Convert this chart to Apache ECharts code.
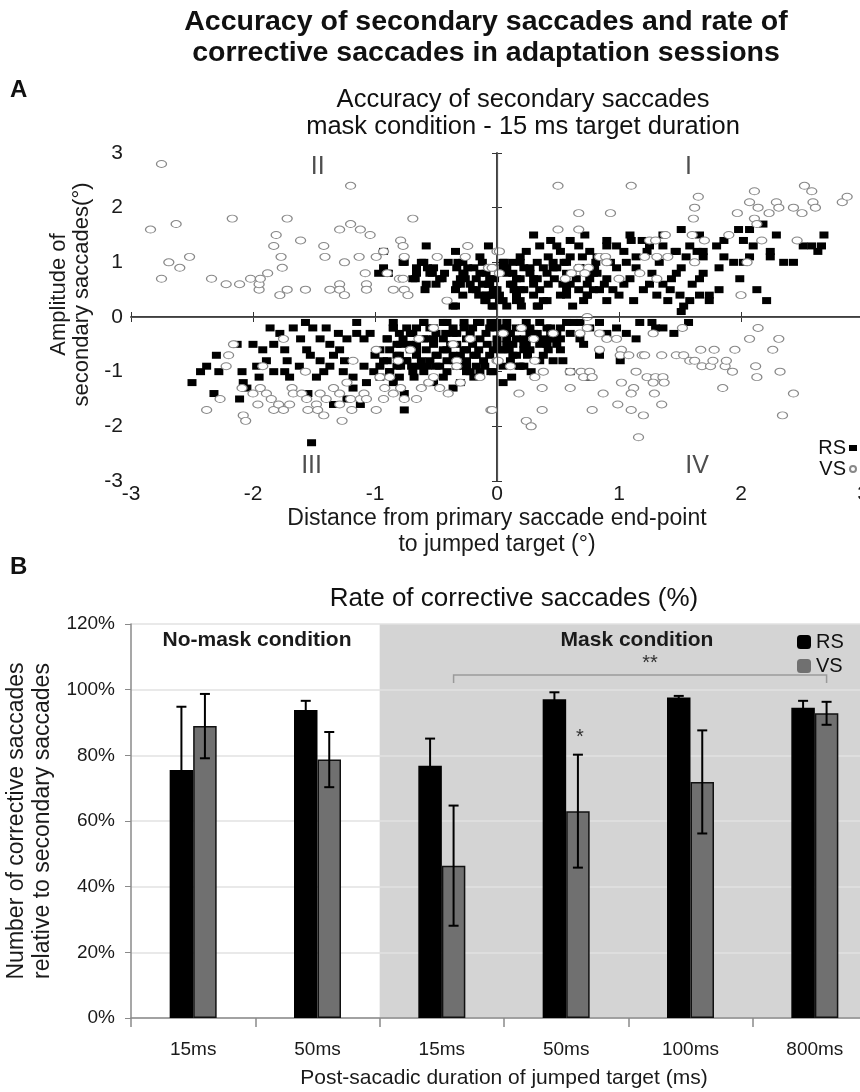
<!DOCTYPE html>
<html>
<head>
<meta charset="utf-8">
<script src="https://cdn.jsdelivr.net/npm/echarts@6/dist/echarts.min.js"></script>
<style>
html,body{margin:0;padding:0;background:#fff;}
#chart{width:860px;height:1092px;}
</style>
</head>
<body>
<div id="chart"></div>
<script>
// ---------- Panel A data: [distance (deg), amplitude (deg)] ----------
const rsPoints = [
[-0.93,1.2],[-0.97,0.8],[-0.93,0.9],[-0.89,0.8],[-0.76,1.0],[-0.67,0.7],[-0.66,0.8],[-0.62,1.0],[-0.58,1.3],[-0.57,0.9],
[-0.53,0.8],[-0.52,0.9],[-0.5,0.6],[-0.59,0.5],[-0.43,0.8],[-0.34,1.2],[-0.34,0.5],[-0.34,0.2],[-0.32,1.0],[-0.27,0.8],
[-0.26,0.7],[-0.24,0.9],[-0.2,0.5],[-0.14,1.1],[-0.19,0.9],[-0.14,0.8],[-0.07,1.3],[-0.09,0.8],[-0.07,0.6],[-0.08,0.4],
[-0.04,0.4],[-0.04,0.2],[-0.02,0.7],[-0.02,0.5],[-0.12,0.6],[-0.17,0.7],[-0.1,0.3],[-0.22,0.6],[-0.3,0.6],[-0.45,0.7],
[-0.4,1.0],[-0.12,1.0],[-0.05,0.9],[-0.28,0.4],[-0.15,0.4],
[0.3,1.5],[0.44,1.4],[0.35,1.3],[0.49,1.3],[0.6,1.4],[0.72,1.5],[0.67,1.3],[0.76,1.2],[0.9,1.4],[0.98,1.3],
[1.09,1.5],[1.1,1.4],[1.19,1.4],[1.36,1.5],[1.51,1.6],[1.66,1.5],[1.58,1.3],[1.47,1.2],[1.69,1.2],[1.8,1.3],
[1.86,1.4],[1.98,1.6],[2.07,1.6],[2.18,1.7],[2.02,1.4],[2.1,1.3],[2.24,1.2],[2.24,1.1],[2.29,1.5],[2.35,1.0],
[2.43,1.0],[2.51,1.3],[2.58,1.3],[2.68,1.5],[2.66,1.3],[2.63,1.2],[0.24,1.2],[0.19,1.1],[0.13,1.0],[0.05,0.9],
[0.06,1.0],[0.22,0.9],[0.33,1.0],[0.42,1.1],[0.52,1.2],[0.6,1.1],[0.49,0.9],[0.41,0.8],[0.3,0.7],[0.16,0.7],
[0.11,0.6],[0.0,0.5],[0.02,0.3],[0.22,0.5],[0.34,0.2],[0.41,0.3],[0.3,0.4],[0.54,0.6],[0.57,0.4],[0.67,0.5],
[0.76,0.7],[0.82,0.8],[0.74,0.4],[0.84,0.5],[0.9,0.3],[0.98,0.9],[1.06,1.0],[1.14,0.9],[1.04,0.6],[1.09,0.7],
[1.2,0.5],[1.25,0.6],[1.31,0.4],[1.36,0.6],[1.43,0.7],[1.42,0.5],[1.47,0.8],[1.51,0.9],[1.5,0.4],[1.53,0.2],
[1.58,0.3],[1.51,0.1],[1.66,0.4],[1.66,0.7],[1.69,0.8],[1.74,0.4],[1.74,0.3],[1.82,0.5],[1.82,0.9],[1.86,1.1],
[1.94,1.0],[1.99,0.7],[2.02,1.0],[2.07,1.1],[2.13,0.5],[2.21,0.3],[1.23,1.2],[1.14,1.1],[1.04,1.2],[0.9,1.3],
[0.82,1.1],[0.93,1.0],[0.68,0.9],[0.65,0.7],[0.6,0.6],[0.42,0.6],[0.35,0.5],[0.16,0.3],[-0.03,0.4],[1.69,1.1],
[1.64,1.2],[1.36,1.3],[1.46,1.2],[1.25,1.3],[0.08,0.8],[0.14,0.5],[0.27,0.8],[0.47,0.7],[0.55,1.0],[0.7,1.1],
[0.8,0.9],[0.88,0.6],[1.0,0.4],[1.12,0.3],[1.27,0.8],[1.33,1.0],[1.4,0.3],[1.6,0.6],[1.55,1.1],[0.62,0.2],
[0.95,0.5],[0.2,0.2],[0.46,1.0],[0.38,0.9],
[-2.5,-1.2],[-2.43,-1.0],[-2.38,-0.9],[-2.3,-0.7],[-2.28,-1.0],[-2.32,-1.4],[-2.11,-1.5],[-2.13,-0.5],[-2.09,-1.0],[-2.08,-1.2],
[-2.05,-1.3],[-2.0,-0.5],[-1.97,-0.9],[-1.92,-0.6],[-1.89,-0.8],[-1.86,-0.2],[-1.83,-0.5],[-1.78,-0.3],[-1.74,-0.6],[-1.72,-0.8],
[-1.74,-1.0],[-1.83,-1.0],[-1.67,-0.2],[-1.61,-0.4],[-1.57,-0.1],[-1.56,-0.6],[-1.53,-0.7],[-1.51,-0.2],[-1.45,-0.4],[-1.4,-0.2],
[-1.37,-0.5],[-1.34,-0.7],[-1.29,-0.6],[-1.23,-0.4],[-1.15,-0.1],[-1.15,-0.3],[-1.09,-0.4],[-1.04,-0.3],[-1.48,-1.1],[-1.42,-1.0],
[-1.37,-0.9],[-1.26,-1.0],[-1.18,-1.1],[-1.09,-0.9],[-1.07,-1.2],[-1.18,-1.3],[-1.34,-1.6],[-1.23,-1.5],[-1.12,-1.6],[-0.76,-1.4],
[-0.76,-1.7],[-1.55,-1.4],[-1.52,-2.3],[-0.9,-0.4],[-0.96,-0.6],[-0.93,-0.8],[-0.85,-0.2],[-0.82,-0.7],[-0.79,-0.5],[-0.71,-0.3],
[-0.66,-0.6],[-0.6,-0.1],[-0.57,-0.9],[-0.52,-0.4],[-0.49,-0.7],[-0.41,-0.1],[-0.38,-0.5],[-0.35,-0.8],[-0.27,-0.2],[-0.25,-0.6],
[-0.22,-1.0],[-0.16,-0.1],[-0.14,-0.4],[-0.11,-0.8],[-0.05,-1.0],[-0.03,-0.6],[-0.01,-0.2],[-0.68,-1.1],[-0.6,-1.0],[-0.52,-1.2],
[-0.44,-1.1],[-0.36,-1.3],[-0.3,-1.2],[-0.19,-1.1],[-0.14,-1.0],[-0.88,-1.0],[-0.79,-0.9],[-0.74,-0.8],[-0.47,-0.9],[-0.33,-0.9],
[-0.19,-0.7],[-0.08,-0.5],[-0.52,-0.2],[-0.66,-0.2],[-0.36,-0.3],[-0.22,-0.3],[-0.85,-1.2],[-0.96,-1.1],[-1.01,-1.0],
[0.0,-0.1],[0.05,-0.2],[0.11,-0.3],[0.16,-0.2],[0.22,-0.4],[0.27,-0.2],[0.33,-0.3],[0.38,-0.4],[0.44,-0.2],[0.49,-0.3],
[0.52,-0.4],[0.63,-0.1],[0.6,-0.3],[0.68,-0.4],[0.76,-0.2],[0.84,-0.1],[0.9,-0.3],[0.98,-0.2],[1.06,-0.3],[1.14,-0.4],
[1.17,-0.1],[1.27,-0.1],[1.3,-0.2],[1.36,-0.2],[1.45,-0.3],[1.57,-0.1],[0.0,-0.5],[0.05,-0.6],[0.11,-0.8],[0.16,-0.7],
[0.22,-0.5],[0.27,-0.6],[0.35,-0.5],[0.38,-0.7],[0.49,-0.5],[0.52,-0.6],[0.54,-0.8],[0.35,-0.8],[0.22,-0.9],[0.05,-0.9],
[-0.03,-1.0],[0.05,-1.2],[0.71,-0.5],[0.84,-0.7],[1.01,-0.8],[0.6,-1.0],[0.76,-1.1],[0.08,-0.4],[0.13,-0.5],[0.25,-0.7],
[0.3,-0.3],[0.42,-0.6],[0.46,-0.8],[0.03,-0.6],[0.18,-0.9],[0.28,-1.0],[0.44,-0.4],
[-1.62,-0.9],[-1.45,-0.8],[-1.25,-0.8],[-1.0,-0.7],[-0.72,-0.5],[-0.62,-0.8],[-0.44,-0.6],[-0.3,-0.7],[-0.15,-0.6],[-0.42,-0.3],
[-0.58,-0.4],[-0.25,-0.9],[-0.1,-0.9],[-1.3,-0.3],[-1.7,-1.1],[-1.95,-1.1],[-0.96,-0.9],[-0.8,-1.1],[-0.7,-0.9],[0.12,-1.1],
// centre cluster (detail read)
[-0.85,-0.1],[-0.6,-0.1],[-0.44,-0.1],[-0.27,-0.1],[-0.14,-0.1],[-0.05,-0.1],[0.08,-0.1],[0.24,-0.1],[0.35,-0.1],[0.57,-0.1],[0.68,-0.1],
[-0.85,-0.2],[-0.74,-0.2],[-0.55,-0.2],[-0.36,-0.2],[-0.2,-0.2],[-0.06,-0.2],[0.08,-0.2],[0.21,-0.2],[0.41,-0.2],[0.52,-0.2],
[-0.8,-0.3],[-0.69,-0.3],[-0.5,-0.3],[-0.33,-0.3],[-0.09,-0.3],[0.1,-0.3],[0.27,-0.3],[0.44,-0.3],
[-0.9,-0.4],[-0.77,-0.4],[-0.6,-0.4],[-0.44,-0.4],[-0.25,-0.4],[0.0,-0.4],[0.16,-0.4],[0.33,-0.4],[0.46,-0.4],
[-0.82,-0.5],[-0.66,-0.5],[-0.52,-0.5],[-0.33,-0.5],[-0.2,-0.5],[0.08,-0.5],[0.24,-0.5],[0.41,-0.5],
[-0.88,-0.6],[-0.71,-0.6],[-0.58,-0.6],[-0.41,-0.6],[-0.27,-0.6],[0.1,-0.6],[0.22,-0.6],
[-0.8,-0.7],[-0.66,-0.7],[-0.5,-0.7],[-0.36,-0.7],[-0.17,-0.7],[-0.06,-0.7],[0.13,-0.7],
[-0.9,-0.8],[-0.74,-0.8],[-0.55,-0.8],[-0.41,-0.8],[-0.25,-0.8],
[-0.82,-0.9],[-0.63,-0.9],[-0.5,-0.9],[-0.3,-0.9],[-0.17,-0.9],[0.19,-0.9],
[-0.88,-1.0],[-0.69,-1.0],[-0.41,-1.0],[-0.25,-1.0],
[-0.77,1.0],[-0.6,1.0],[-0.28,1.0],[0.05,1.0],[0.19,1.0],[0.57,1.0],[0.81,1.0],
[-0.66,0.9],[-0.33,0.9],[0.08,0.9],[0.27,0.9],[0.46,0.9],[0.68,0.9],
[-0.9,0.8],[-0.55,0.8],[-0.28,0.8],[0.13,0.8],[0.57,0.8],[0.79,0.8],
[-0.69,0.7],[-0.47,0.7],[-0.3,0.7],[-0.06,0.7],[0.19,0.7],[0.33,0.7],[0.9,0.7],
[-0.58,0.6],[-0.33,0.6],[-0.06,0.6],[0.13,0.6],[0.3,0.6],[0.74,0.6],
[-0.17,0.5],[-0.03,0.5],[0.19,0.5],[0.57,0.5],[0.79,0.5],
[-0.09,0.4],[0.02,0.4],[0.16,0.4],[0.52,0.4],[0.74,0.4],
[-0.09,0.3],[0.05,0.3],[0.19,0.3],[0.38,0.3],[0.71,0.3],
[-0.36,0.2],[-0.03,0.2],[0.08,0.2],[0.33,0.2]
];
const vsPoints = [
[-2.75,2.8],[-2.84,1.6],[-2.63,1.7],[-2.75,0.7],[-2.69,1.0],[-2.6,0.9],[-2.52,1.1],[-2.34,0.7],[-2.22,0.6],[-2.17,1.8],
[-2.11,0.6],[-2.02,0.7],[-1.95,0.5],[-1.95,0.6],[-1.94,0.7],[-1.88,0.8],[-1.83,1.3],[-1.81,1.5],[-1.77,1.1],[-1.76,0.9],
[-1.78,0.4],[-1.72,0.5],[-1.72,1.8],[-1.61,1.4],[-1.57,0.5],[-1.42,1.3],[-1.41,1.1],[-1.37,0.5],[-1.29,0.6],[-1.29,0.5],
[-1.25,0.4],[-1.29,1.6],[-1.2,1.7],[-1.2,2.4],[-1.25,1.0],[-1.12,1.6],[-1.04,1.5],[-1.13,1.1],[-1.08,0.8],[-1.07,0.6],
[-1.07,0.5],[-0.99,1.1],[-0.93,1.2],[-0.9,0.8],[-0.85,0.5],[-0.79,1.4],[-0.77,1.3],[-0.76,1.1],[-0.69,1.8],[-0.8,0.7],
[-0.77,0.7],[-0.76,0.5],[-0.73,0.4],[-0.49,1.1],[-0.41,0.3],[-0.26,1.1],[-0.24,1.3],[-0.07,0.9],[0.0,1.2],
[0.5,2.4],[1.1,2.4],[1.65,2.2],[1.62,2.0],[1.61,1.8],[0.67,1.9],[0.93,1.9],[0.5,1.6],[0.67,1.6],[2.11,2.3],
[2.52,2.4],[2.58,2.3],[2.07,2.1],[2.14,2.0],[2.29,2.1],[2.31,2.0],[2.23,1.9],[2.43,2.0],[2.5,1.9],[2.59,2.1],
[2.61,2.0],[2.83,2.1],[2.87,2.2],[1.97,1.9],[2.11,1.8],[2.13,1.7],[2.17,1.4],[2.46,1.4],[1.9,1.5],[1.7,1.4],
[1.6,1.5],[1.38,1.5],[1.25,1.4],[1.3,1.4],[0.02,1.2],[0.84,1.1],[0.89,1.1],[0.9,1.0],[1.21,1.1],[1.31,1.1],
[1.4,1.1],[1.62,1.0],[2.05,1.0],[0.61,0.8],[0.67,0.9],[0.75,0.9],[0.56,0.7],[0.72,0.8],[0.02,0.8],[-0.04,0.9],
[1.0,0.7],[1.17,0.8],[1.31,0.7],[2.0,0.4],[0.74,0.0],
[-2.16,-0.5],[-2.2,-0.7],[-2.22,-0.9],[-2.27,-1.5],[-2.38,-1.7],[-2.09,-1.3],[-2.0,-1.4],[-2.08,-1.8],[-2.06,-1.9],[-1.96,-1.6],
[-1.94,-1.3],[-1.92,-0.9],[-1.89,-1.4],[-1.85,-1.5],[-1.83,-1.7],[-1.79,-1.6],[-1.75,-1.7],[-1.75,-0.4],[-1.7,-1.6],[-1.68,-1.3],
[-1.67,-1.4],[-1.6,-1.4],[-1.57,-1.0],[-1.56,-1.5],[-1.55,-1.7],[-1.48,-1.6],[-1.47,-1.7],[-1.45,-1.4],[-1.42,-1.8],[-1.4,-1.5],
[-1.34,-1.3],[-1.29,-1.4],[-1.29,-1.6],[-1.27,-1.9],[-1.23,-1.2],[-1.2,-1.5],[-1.19,-1.7],[-1.18,-0.8],[-1.12,-1.5],[-1.09,-1.4],
[-1.07,-1.5],[-0.99,-1.7],[-0.99,-0.6],[-0.96,-1.1],[-0.93,-1.5],[-0.92,-1.3],[-0.88,-1.1],[-0.85,-1.4],[-0.81,-0.8],[-0.79,-1.3],
[-0.76,-1.5],[-0.66,-1.5],[-0.64,-0.4],[-0.62,-1.3],[-0.56,-1.2],[-0.52,-1.1],[-0.47,-1.3],[-0.4,-1.4],[-0.3,-1.2],[-0.33,-0.8],
[-0.33,-0.9],[-0.52,-0.2],[-0.71,-0.6],[-0.36,-0.5],[-0.22,-0.4],[-0.14,-1.1],[-0.05,-1.7],[0.0,-0.8],
[0.05,-0.3],[0.2,-0.2],[0.3,-0.4],[0.46,-0.3],[0.68,-0.3],[0.74,-0.2],[0.84,-0.3],[0.9,-0.4],[0.98,-0.4],[0.84,-0.6],
[1.02,-0.6],[1.01,-0.7],[1.08,-0.7],[1.19,-0.7],[1.21,-0.7],[1.28,-0.3],[1.35,-0.7],[1.47,-0.7],[1.52,-0.2],[1.53,-0.7],
[1.58,-0.8],[1.62,-0.8],[1.67,-0.6],[1.68,-0.9],[1.75,-0.9],[1.77,-0.8],[1.78,-0.6],[1.87,-0.9],[1.88,-0.8],[1.93,-1.0],
[1.95,-0.6],[2.07,-0.4],[2.14,-0.2],[2.26,-0.6],[2.31,-0.4],[2.32,-1.0],[2.12,-0.9],[2.13,-1.1],[1.85,-1.3],[2.43,-1.4],
[2.34,-1.8],[0.01,-0.8],[0.11,-0.9],[0.31,-0.8],[0.38,-1.0],[0.31,-1.1],[0.37,-1.3],[0.18,-1.4],[0.6,-1.0],[0.6,-1.3],
[0.69,-1.0],[0.76,-1.0],[0.71,-1.1],[0.78,-1.1],[1.02,-1.2],[1.14,-1.0],[1.12,-1.3],[1.1,-1.4],[1.23,-1.1],[1.3,-1.1],
[1.36,-1.1],[1.28,-1.2],[1.37,-1.2],[1.29,-1.4],[0.87,-1.4],[0.37,-1.7],[0.78,-1.7],[0.99,-1.6],[1.1,-1.7],[1.2,-1.8],
[1.35,-1.6],[0.24,-1.9],[0.28,-2.0],[1.16,-2.2],[-0.04,-1.7]
];
const scatterTicks = [-3, -2, -1, 0, 1, 2, 3];
const quadrantNames = ['I', 'II', 'III', 'IV'];
const quadrantSpots = [[1.57, 2.75], [-1.47, 2.75], [-1.52, -2.72], [1.64, -2.72]];

// ---------- Panel B data ----------
const barKeys = ['nomask-15', 'nomask-50', 'mask-15', 'mask-50', 'mask-100', 'mask-800'];
const barTickLabels = ['15ms', '50ms', '15ms', '50ms', '100ms', '800ms'];
const rsRate = [75.5, 93.8, 76.8, 97.1, 97.6, 94.5];
const rsErr  = [19.3, 2.8, 8.3, 2.1, 0.5, 2.1];
const vsRate = [88.9, 78.7, 46.4, 63.0, 71.9, 92.8];
const vsErr  = [9.8, 8.4, 18.3, 17.2, 15.7, 3.5];
const maskSpan = [2, 6];                 // categories under mask condition (band)
const bracketSig = [2, 5, 104.5, 102];   // from cat, to cat, top %, foot %
const bracketText = '**';
const starSig = [3, 82.5];               // category, level %
const starText = '*';

const FONT = 'Liberation Sans, Arial, sans-serif';
const BAR_W = 23.5;

const chart = echarts.init(document.getElementById('chart'), null, {renderer: 'canvas'});

const quadData = quadrantNames.map((n, i) => ({name: n, value: quadrantSpots[i]}));
const rsErrData = rsRate.map((v, i) => [i, v, rsErr[i], -1]);
const vsErrData = vsRate.map((v, i) => [i, v, vsErr[i], 1]);

function renderErr(params, api) {
  const i = api.value(0), m = api.value(1), e = api.value(2), side = api.value(3);
  const top = api.coord([i, m + e]);
  const bot = api.coord([i, m - e]);
  const x = top[0] + side * BAR_W / 2;
  const cap = 5;
  const st = {stroke: '#000', lineWidth: 2};
  return {type: 'group', children: [
    {type: 'line', shape: {x1: x, y1: top[1], x2: x, y2: bot[1]}, style: st},
    {type: 'line', shape: {x1: x - cap, y1: top[1], x2: x + cap, y2: top[1]}, style: st},
    {type: 'line', shape: {x1: x - cap, y1: bot[1], x2: x + cap, y2: bot[1]}, style: st}
  ]};
}

function renderBracket(params, api) {
  const a = api.value(0), b = api.value(1), hi = api.value(2), lo = api.value(3);
  const pa = api.coord([a, hi]), pb = api.coord([b, hi]);
  const fa = api.coord([a, lo]);
  const xa = pa[0] + BAR_W / 2, xb = pb[0] + BAR_W / 2;
  return {type: 'group', children: [
    {type: 'polyline', shape: {points: [[xa, fa[1]], [xa, pa[1]], [xb, pa[1]], [xb, fa[1]]]},
     style: {stroke: '#9a9a9a', lineWidth: 1.5, fill: null}},
    {type: 'text', style: {text: bracketText, x: (xa + xb) / 2 + 10, y: pa[1] - 1, align: 'center', verticalAlign: 'bottom',
      fontSize: 20, fontFamily: FONT, fill: '#333'}}
  ]};
}

function renderStar(params, api) {
  const p = api.coord([api.value(0), api.value(1)]);
  return {type: 'text', style: {text: starText, x: p[0] + BAR_W / 2 + 2, y: p[1], align: 'center', verticalAlign: 'bottom',
    fontSize: 20, fontFamily: FONT, fill: '#333'}};
}

const axisTxt = {fontFamily: FONT, color: '#1a1a1a'};

const option = {
  backgroundColor: '#ffffff',
  animation: false,
  textStyle: {fontFamily: FONT},
  graphic: [
    {type: 'text', style: {text: 'Accuracy of secondary saccades and rate of\ncorrective saccades in adaptation sessions',
      x: 486, y: 7, align: 'center', font: 'bold 28.5px ' + FONT, lineHeight: 31, fill: '#111'}},
    {type: 'text', style: {text: 'A', x: 10, y: 78, font: 'bold 24px ' + FONT, fill: '#111'}},
    {type: 'text', style: {text: 'Accuracy of secondary saccades\nmask condition - 15 ms target duration',
      x: 523, y: 86, align: 'center', font: '25.5px ' + FONT, lineHeight: 27, fill: '#111'}},
    {type: 'text', style: {text: 'B', x: 10, y: 555, font: 'bold 24px ' + FONT, fill: '#111'}},
    {type: 'text', style: {text: 'Rate of corrective saccades (%)', x: 514, y: 586, align: 'center', font: '26px ' + FONT, fill: '#111'}},
    {type: 'text', style: {text: 'No-mask condition', x: 257, y: 630, align: 'center', font: 'bold 21px ' + FONT, fill: '#1a1a1a'}},
    {type: 'text', style: {text: 'Mask condition', x: 637, y: 630, align: 'center', font: 'bold 21px ' + FONT, fill: '#1a1a1a'}}
  ],
  legend: [
    {data: ['RS-A', 'VS-A'], orient: 'vertical', right: 3, top: 438, align: 'right', itemGap: 1,
     itemWidth: 8, itemHeight: 6, selectedMode: false, padding: 0,
     formatter: n => n.split('-')[0],
     textStyle: {fontSize: 20, fontFamily: FONT, color: '#111', padding: [0, -2, 0, 0]}},
    {data: ['RS-B', 'VS-B'], orient: 'vertical', left: 797, top: 632, itemGap: 4,
     itemWidth: 14, itemHeight: 14, selectedMode: false, padding: 0,
     itemStyle: {borderWidth: 0},
     formatter: n => n.split('-')[0],
     textStyle: {fontSize: 20, fontFamily: FONT, color: '#111'}}
  ],
  grid: [
    {left: 131, top: 153, width: 732, height: 328, containLabel: false, outerBoundsMode: 'none'},
    {left: 131, top: 624, width: 746, height: 394, containLabel: false, outerBoundsMode: 'none'}
  ],
  xAxis: [
    {gridIndex: 0, type: 'value', min: -3, max: 3, interval: 1, position: 'bottom',
     name: 'Distance from primary saccade end-point\nto jumped target (°)', nameLocation: 'middle', nameGap: 15,
     nameTextStyle: Object.assign({fontSize: 23, lineHeight: 26, verticalAlign: 'top'}, axisTxt),
     axisLine: {show: true, lineStyle: {color: '#333', width: 1.5}},
     axisTick: {show: true, inside: true, length: 5, lineStyle: {color: '#333'}},
     axisLabel: Object.assign({fontSize: 21, margin: 3}, axisTxt),
     splitLine: {show: false}},
    {gridIndex: 0, type: 'value', min: -3, max: 3, interval: 1, position: 'top',
     axisLine: {show: true, lineStyle: {color: '#333', width: 1.5}},
     axisTick: {show: true, inside: true, length: 5, lineStyle: {color: '#333'}},
     axisLabel: {show: false}, splitLine: {show: false}},
    {gridIndex: 1, type: 'category', data: barKeys, position: 'bottom',
     name: 'Post-sacadic duration of jumped target (ms)', nameLocation: 'middle', nameGap: 50,
     nameTextStyle: Object.assign({fontSize: 21}, axisTxt),
     axisLine: {show: true, lineStyle: {color: '#8a8a8a', width: 1.5}},
     axisTick: {show: true, length: 9, lineStyle: {color: '#8a8a8a', width: 1.5}},
     axisLabel: Object.assign({fontSize: 19, margin: 22, formatter: (v, i) => barTickLabels[i]}, axisTxt)},
    {gridIndex: 1, type: 'value', min: 0, max: 6, show: false}
  ],
  yAxis: [
    {gridIndex: 0, type: 'value', min: -3, max: 3, interval: 1,
     name: 'Amplitude of\nsecondary saccades(°)', nameLocation: 'middle', nameGap: 32,
     nameTextStyle: Object.assign({fontSize: 22, lineHeight: 23, padding: [0, 0, 0, 45]}, axisTxt),
     axisLine: {show: true, lineStyle: {color: '#333', width: 1.5}},
     axisTick: {show: true, inside: true, length: 5, lineStyle: {color: '#333'}},
     axisLabel: Object.assign({fontSize: 21, margin: 8}, axisTxt),
     splitLine: {show: false}},
    {gridIndex: 0, type: 'value', min: -3, max: 3, interval: 1, position: 'right',
     axisLine: {show: true, lineStyle: {color: '#333', width: 1.5}},
     axisTick: {show: true, inside: true, length: 5, lineStyle: {color: '#333'}},
     axisLabel: {show: false}, splitLine: {show: false}},
    {gridIndex: 1, type: 'value', min: 0, max: 120, interval: 20,
     name: 'Number of corrective saccades\nrelative to secondary saccades', nameLocation: 'middle', nameGap: 71,
     nameTextStyle: Object.assign({fontSize: 23, lineHeight: 26}, axisTxt),
     axisLine: {show: true, lineStyle: {color: '#8a8a8a', width: 1.5}},
     axisTick: {show: true, length: 6, lineStyle: {color: '#8a8a8a'}},
     axisLabel: Object.assign({fontSize: 19, margin: 16, formatter: '{value}%'}, axisTxt),
     splitLine: {show: true, lineStyle: {color: '#e2e2e2', width: 1.5}}}
  ],
  series: [
    {name: 'RS-A', type: 'scatter', xAxisIndex: 0, yAxisIndex: 0, data: rsPoints,
     symbol: 'rect', symbolSize: [9, 7], itemStyle: {color: '#000', opacity: 1}, z: 3, silent: true,
     markLine: {silent: true, symbol: ['none', 'none'], label: {show: false}, animation: false,
       lineStyle: {color: '#555', width: 1.2, type: 'solid'},
       data: [{xAxis: 0}, {yAxis: 0}]}},
    {name: 'VS-A', type: 'scatter', xAxisIndex: 0, yAxisIndex: 0, data: vsPoints,
     symbol: 'circle', symbolSize: [10, 7], itemStyle: {color: '#fff', borderColor: '#888', borderWidth: 1.1, opacity: 1}, z: 4, silent: true},
    {name: 'quadrants', type: 'scatter', xAxisIndex: 0, yAxisIndex: 0, data: quadData, symbolSize: 1,
     itemStyle: {color: 'rgba(0,0,0,0)'}, silent: true, z: 5,
     label: {show: true, position: 'inside', formatter: '{b}', fontSize: 25, fontFamily: FONT, color: '#222'}},
    {name: 'band', type: 'line', xAxisIndex: 3, yAxisIndex: 2, data: [], silent: true,
     markArea: {silent: true, z: -1, itemStyle: {color: '#d4d4d4'}, label: {show: false},
       data: [[{xAxis: maskSpan[0], yAxis: 0}, {xAxis: maskSpan[1], yAxis: 120}]]}},
    {name: 'RS-B', type: 'bar', xAxisIndex: 2, yAxisIndex: 2, data: rsRate, barWidth: BAR_W, barGap: '0%',
     itemStyle: {color: '#000', borderColor: '#000', borderWidth: 1.5}, silent: true, z: 3},
    {name: 'VS-B', type: 'bar', xAxisIndex: 2, yAxisIndex: 2, data: vsRate, barWidth: BAR_W, barGap: '0%',
     itemStyle: {color: '#707070', borderColor: '#111', borderWidth: 1.5}, silent: true, z: 3},
    {name: 'rsErr', type: 'custom', xAxisIndex: 2, yAxisIndex: 2, data: rsErrData, renderItem: renderErr, z: 5, silent: true},
    {name: 'vsErr', type: 'custom', xAxisIndex: 2, yAxisIndex: 2, data: vsErrData, renderItem: renderErr, z: 5, silent: true},
    {name: 'bracket', type: 'custom', xAxisIndex: 2, yAxisIndex: 2, data: [bracketSig], renderItem: renderBracket, z: 5, silent: true, clip: false},
    {name: 'star', type: 'custom', xAxisIndex: 2, yAxisIndex: 2, data: [starSig], renderItem: renderStar, z: 5, silent: true}
  ]
};
chart.setOption(option);
</script>
</body>
</html>
